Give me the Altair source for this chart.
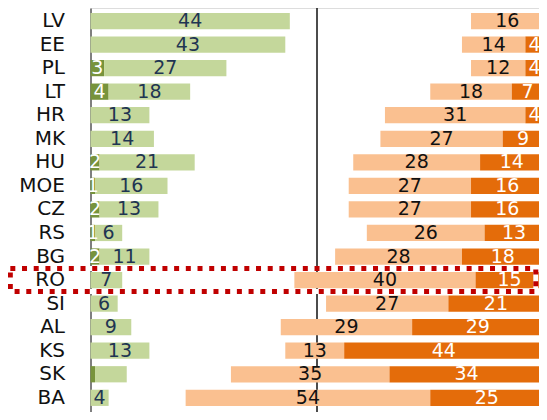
import altair as alt
import pandas as pd

# ---- data ----
countries = ["LV", "EE", "PL", "LT", "HR", "MK", "HU", "MOE", "CZ", "RS",
             "BG", "RO", "SI", "AL", "KS", "SK", "BA"]
green_dark = [0, 0, 3, 4, 0, 0, 2, 1, 2, 1, 2, 0, 0, 0, 0, 1, 0]
green_light = [44, 43, 27, 18, 13, 14, 21, 16, 13, 6, 11, 7, 6, 9, 13, 7, 4]
orange_light = [16, 14, 12, 18, 31, 27, 28, 27, 27, 26, 28, 40, 27, 29, 13, 35, 54]
orange_dark = [0, 4, 4, 7, 4, 9, 14, 16, 16, 13, 18, 15, 21, 29, 44, 34, 25]
unlabeled_green = ["SK"]
highlight = "RO"
total = 100      # orange stacks end at 100 %
midline = 50     # vertical reference line

# ---- styles ----
fill = {"gd": "#77933C", "gl": "#C4D79B", "ol": "#FAC090", "od": "#E46C0A"}
txt = {"gd": "#FFFFFF", "gl": "#1F3552", "ol": "#111111", "od": "#FFFFFF"}
FONT = "DejaVu Sans"

rows = []
for c, gd, gl, ol, od in zip(countries, green_dark, green_light, orange_light, orange_dark):
    segs = [("gd", 0, gd, gd), ("gl", gd, gd + gl, gl),
            ("ol", total - od - ol, total - od, ol), ("od", total - od, total, od)]
    for s, a, b, v in segs:
        if v <= 0:
            continue
        lab = str(v)
        if c in unlabeled_green and s in ("gd", "gl"):
            lab = ""
        rows.append({"country": c, "seg": s, "x0": a, "x1": b, "mid": (a + b) / 2,
                     "label": lab, "fill": fill[s], "tcol": txt[s]})
df = pd.DataFrame(rows)

PAD_L = 82.5
W = 448.5
H = 404
PX = 4.53
xmax = W / PX
xs = alt.Scale(domain=[0, xmax], nice=False, zero=False)
ys = alt.Scale(domain=countries, paddingInner=0.31, paddingOuter=0.2325, align=0.446)

yenc = alt.Y("country:N", sort=countries, scale=ys,
             axis=alt.Axis(title=None, ticks=False, tickSize=0, labelPadding=26,
                           labelFontSize=20, labelFont=FONT, labelColor="#111111",
                           domainColor="#7F7F7F", domainWidth=2, grid=False))

rule = alt.Chart(pd.DataFrame({"v": [midline]})).mark_rule(
    color="#111111", strokeWidth=1.5).encode(x=alt.X("v:Q", scale=xs, axis=None))

bars = alt.Chart(df).mark_bar().encode(
    y=yenc,
    x=alt.X("x0:Q", scale=xs, axis=None),
    x2="x1:Q",
    color=alt.Color("fill:N", scale=None),
)

texts = alt.Chart(df).mark_text(font=FONT, fontSize=19, align="center",
                                baseline="middle").encode(
    y=alt.Y("country:N", sort=countries, scale=ys),
    x=alt.X("mid:Q", scale=xs, axis=None),
    text="label:N",
    color=alt.Color("tcol:N", scale=None),
)

box_df = pd.DataFrame({"country": [highlight], "b0": [-17.7], "b1": [98.3]})
box_white = alt.Chart(box_df).mark_bar(fillOpacity=0, stroke="white",
                                       strokeWidth=5, size=23).encode(
    y=alt.Y("country:N", sort=countries, scale=ys),
    x=alt.X("b0:Q", scale=xs, axis=None), x2="b1:Q")
box_red = alt.Chart(box_df).mark_bar(fillOpacity=0, stroke="#C00000",
                                     strokeWidth=5, strokeDash=[5, 6.7],
                                     size=23).encode(
    y=alt.Y("country:N", sort=countries, scale=ys),
    x=alt.X("b0:Q", scale=xs, axis=None), x2="b1:Q")

chart = alt.layer(rule, bars, texts, box_white, box_red).properties(
    width=W, height=H,
    autosize=alt.AutoSizeParams(type="none"),
    padding={"left": PAD_L, "top": 0, "right": 0, "bottom": 0},
).configure_view(stroke=None).configure(background="white")

chart.save("out.html", embed_options={"renderer": "svg", "actions": False})
